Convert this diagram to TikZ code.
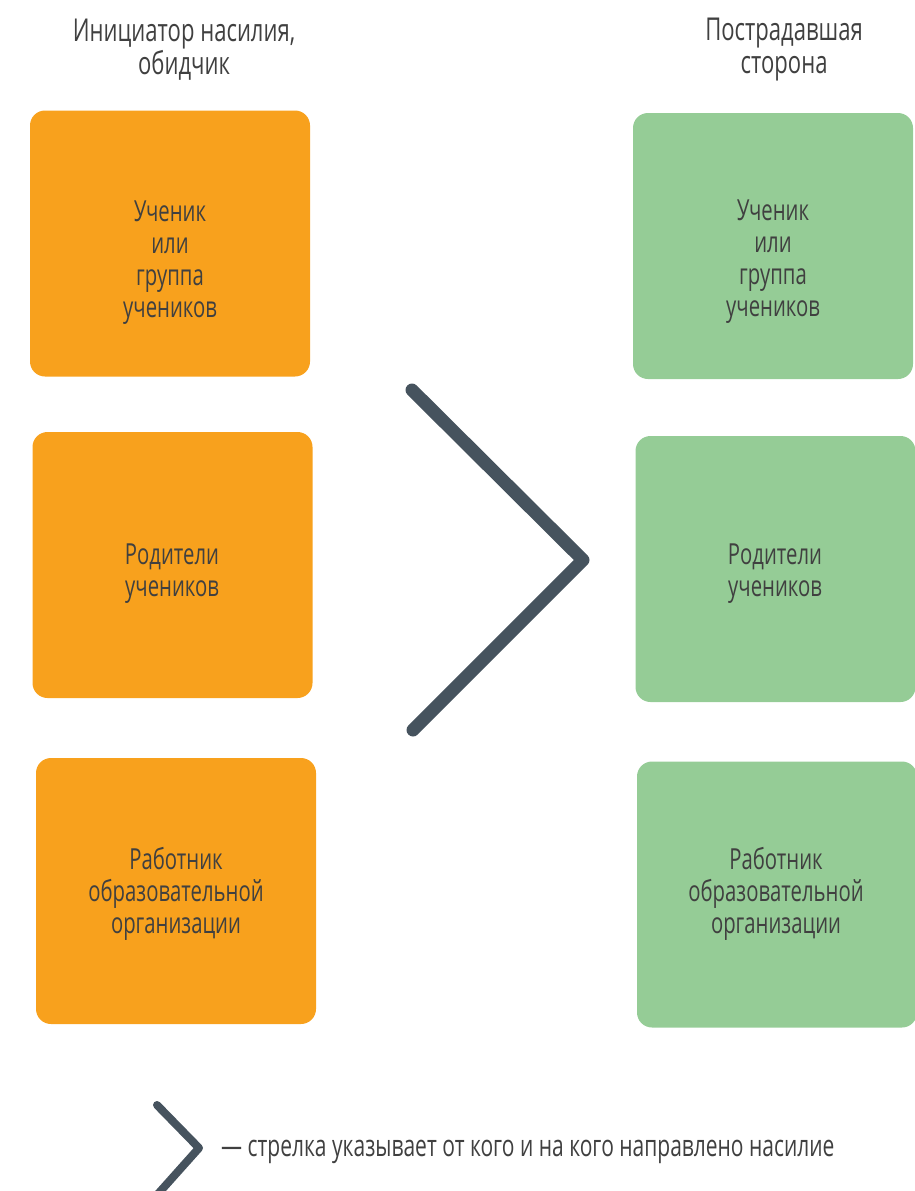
\documentclass[tikz,border=0pt]{standalone}
\usepackage{fontspec}
\setmainfont{Open Sans}[FakeStretch=0.7]
\definecolor{orangebox}{HTML}{F8A11D}
\definecolor{greenbox}{HTML}{95CC96}
\definecolor{textgray}{HTML}{404040}
\definecolor{chevgray}{HTML}{46535E}
\begin{document}
\begin{tikzpicture}[x=1pt,y=-1pt,
  box/.style={rounded corners=15pt, minimum width=280pt, minimum height=266pt, inner sep=0pt},
  lbox/.style={box, fill=orangebox},
  rbox/.style={box, fill=greenbox},
  boxtext/.style={align=center, inner sep=0pt, font=\fontsize{29}{32}\selectfont, text=textgray},
  legtext/.style={inner sep=0pt, font=\fontsize{30}{32}\selectfont, text=textgray},
  head/.style={align=center, inner sep=0pt, font=\fontsize{31.5}{33}\selectfont, text=textgray},
  chev/.style={draw=chevgray, line width=13pt, line cap=round, line join=round},
  smallchev/.style={chev, line width=8pt}]
\useasboundingbox (0,0) rectangle (915,1191);

% headers
\node[head] (hl) at (184,50) {Инициатор насилия,\\обидчик};
\node[head] (hr) at (784,50) {Пострадавшая\\сторона};

% left boxes
\node[lbox] (l1) at (170,243.5) {};
\node[lbox] (l2) at (172.5,565) {};
\node[lbox] (l3) at (176,891) {};
% right boxes
\node[rbox] (r1) at (773,246) {};
\node[rbox] (r2) at (775.5,569) {};
\node[rbox] (r3) at (777,894.5) {};

% box texts
\node[boxtext] (tl1) at (170,263) {Ученик\\или\\группа\\учеников};
\node[boxtext] (tl2) at (172,574) {Родители\\учеников};
\node[boxtext] (tl3) at (176,894) {Работник\\образовательной\\организации};
\node[boxtext] (tr1) at (773,262) {Ученик\\или\\группа\\учеников};
\node[boxtext] (tr2) at (775,574) {Родители\\учеников};
\node[boxtext] (tr3) at (776,894) {Работник\\образовательной\\организации};

% big chevron
\coordinate (c1) at (412,390);
\coordinate (c2) at (583,560);
\coordinate (c3) at (413,730);
\draw[chev] (c1) -- (c2) -- (c3);

% legend
\coordinate (s1) at (157,1105);
\coordinate (s2) at (199,1148);
\coordinate (s3) at (157,1195);
\draw[smallchev] (s1) -- (s2) -- (s3);
\node[legtext, anchor=west] (leg) at (221,1152) {— стрелка указывает от кого и на кого направлено насилие};
\end{tikzpicture}
\end{document}
